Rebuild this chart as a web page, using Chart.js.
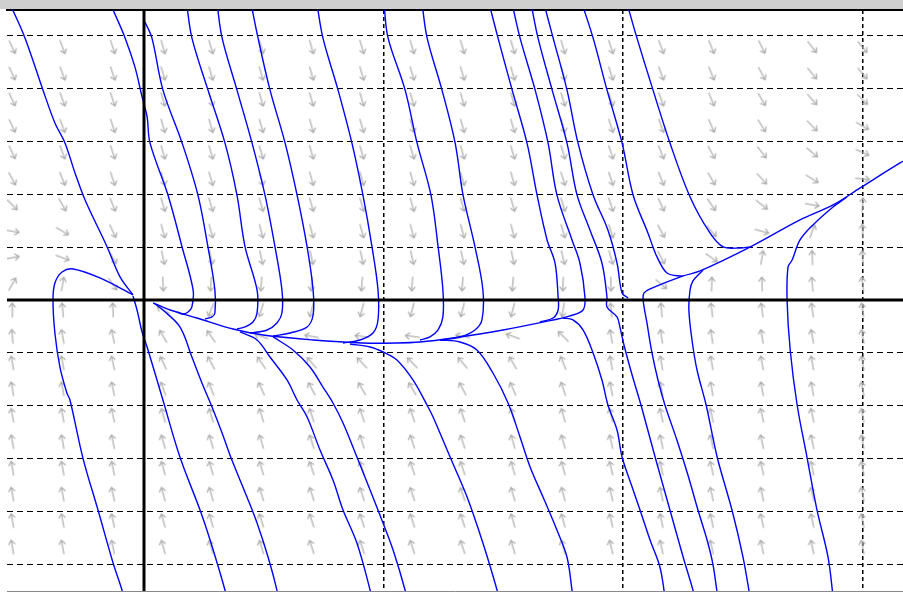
<!DOCTYPE html>
<html><head><meta charset="utf-8">
<script src="https://cdn.jsdelivr.net/npm/chart.js@4.4.0/dist/chart.umd.min.js"></script>
<style>
html,body{margin:0;padding:0;background:#fff;}
#wrap{width:903px;height:592px;position:relative;background:linear-gradient(#cfcfcf 0,#cfcfcf 9px,#fff 9px);}
canvas{display:block;}
</style></head><body>
<div id="wrap"><canvas id="c" width="903" height="592"></canvas></div>
<script>
// axis window and grid values
const X_MIN = -0.572, X_MAX = 3.169, Y_MIN = -5.50, Y_MAX = 5.48;
const xGridValues = [1, 2, 3];
const yGridValues = [-5, -4, -3, -2, -1, 1, 2, 3, 4, 5];

// slope-field sample positions
const arrowX = [-0.55,-0.34,-0.13,0.08,0.28,0.49,0.70,0.91,1.12,1.33,1.54,1.75,1.95,2.16,2.37,2.58,2.79,3.00];
const arrowY = [4.78,4.28,3.79,3.29,2.79,2.29,1.80,1.30,0.80,0.30,-0.19,-0.69,-1.19,-1.68,-2.18,-2.68,-3.18,-3.67,-4.17,-4.67];
// arrow directions (degrees, 0 = right, 90 = up), one row per arrowY
const arrowAngle = [
 [-65,-70,-72,-74,-74,-74,-74,-74,-74,-74,-74,-74,-72,-70,-68,-64,-52,-50],
 [-65,-70,-72,-74,-74,-74,-74,-74,-74,-74,-74,-74,-72,-70,-68,-62,-50,-50],
 [-65,-70,-72,-74,-74,-74,-74,-74,-74,-74,-74,-74,-72,-70,-67,-60,-48,-45],
 [-65,-70,-72,-74,-74,-74,-74,-74,-74,-74,-74,-74,-72,-70,-66,-58,-45,-30],
 [-65,-70,-72,-74,-74,-74,-74,-74,-74,-74,-74,-74,-72,-68,-62,-52,-40,-25],
 [-62,-68,-72,-74,-74,-74,-74,-74,-74,-74,-74,-73,-72,-68,-60,-48,-32,-5],
 [-45,-60,-68,-74,-74,-74,-74,-74,-74,-74,-74,-73,-72,-66,-56,-38,-10,85],
 [-10,-30,-65,-75,-75,-75,-75,-75,-75,-75,-75,-74,-72,-62,-50,-15,70,92],
 [10,-20,-60,-78,-78,-78,-78,-78,-78,-78,-78,-76,-74,-62,-35,80,92,95],
 [60,80,-55,-88,-95,-95,-95,-95,-95,-95,-95,-92,-88,-40,88,92,95,97],
 [90,95,92,150,-112,-108,-105,-105,-105,-105,-105,-100,95,95,97,98,98,98],
 [95,100,102,120,125,160,170,172,172,170,160,135,100,98,98,100,100,100],
 [100,100,102,115,118,124,130,134,134,130,120,112,100,99,99,100,100,100],
 [100,100,102,110,112,115,118,120,120,118,113,108,101,100,100,100,100,100],
 [100,100,102,105,106,107,108,108,108,108,106,105,103,102,102,102,102,100],
 [100,100,102,105,106,107,108,108,108,108,106,105,103,102,102,102,102,100],
 [100,100,102,105,106,107,108,108,108,108,106,105,103,102,102,102,102,100],
 [100,100,102,105,106,107,108,108,108,108,106,105,103,102,102,102,102,100],
 [100,100,102,105,106,107,108,108,108,108,106,105,103,102,102,102,102,100],
 [100,100,102,105,106,107,108,108,108,108,106,105,103,102,102,102,102,100]
];

// solution curves [x, y]
const curveA = [[-0.56,5.6],[-0.497,4.953],[-0.422,3.970],[-0.372,3.346],[-0.330,2.968],[-0.288,2.401],[-0.246,1.890],[-0.154,1.002],[-0.100,0.435],[-0.046,0.095]];
const curveLoop = [[-0.046,0.095],[-0.184,0.416],[-0.296,0.586],[-0.342,0.529],[-0.372,0.321],[-0.380,0],[-0.372,-0.624],[-0.351,-1.267],[-0.322,-1.758],[-0.309,-1.890],[-0.255,-2.988],[-0.192,-3.970],[-0.129,-4.972],[-0.092,-5.482],[-0.088,-5.6]];
const curveB = [[-0.140,5.6],[-0.129,5.482],[-0.079,4.953],[-0.038,4.405],[-0.008,3.837],[0.013,3.459],[0.025,2.968],[0.100,1.985],[0.159,1.002],[0.205,0.189],[0.200,-0.132],[0.184,-0.227],[0.163,-0.265],[0.138,-0.227]];
const curve1 = [[0.004,5.255],[0.033,4.953],[0.079,3.970],[0.159,2.968],[0.225,1.985],[0.267,1.002],[0.296,0.189],[0.296,-0.246],[0.284,-0.321],[0.255,-0.359]];
const curve2 = [[0.178,5.6],[0.200,4.953],[0.267,3.970],[0.338,2.968],[0.388,1.985],[0.422,1.002],[0.472,0.189],[0.472,-0.246],[0.455,-0.416],[0.422,-0.510],[0.388,-0.548]];
const curve3 = [[0.305,5.6],[0.326,4.953],[0.388,3.970],[0.451,2.968],[0.505,1.985],[0.547,1.002],[0.576,0.189],[0.576,-0.246],[0.555,-0.435],[0.514,-0.567],[0.443,-0.624]];
const curve4 = [[0.447,5.6],[0.476,4.953],[0.526,3.970],[0.589,2.968],[0.639,1.985],[0.681,1.002],[0.706,0.189],[0.706,-0.284],[0.681,-0.510],[0.610,-0.624],[0.539,-0.681]];
const curve5 = [[0.722,5.6],[0.747,4.953],[0.810,3.970],[0.868,2.968],[0.914,1.985],[0.952,1.002],[0.977,0.189],[0.977,-0.378],[0.956,-0.624],[0.902,-0.756],[0.831,-0.813]];
const curve6 = [[1.002,5.6],[1.019,4.953],[1.090,3.970],[1.140,2.968],[1.198,1.985],[1.228,1.002],[1.248,0.189],[1.248,-0.321],[1.228,-0.567],[1.194,-0.699],[1.152,-0.756]];
const curve7 = [[1.161,5.6],[1.182,4.953],[1.244,3.970],[1.299,2.968],[1.332,1.985],[1.382,1.002],[1.415,0.189],[1.411,-0.378],[1.382,-0.567],[1.319,-0.699],[1.236,-0.756]];
const curve8 = [[1.441,5.6],[1.478,4.953],[1.537,3.970],[1.599,2.968],[1.641,1.985],[1.683,1.134],[1.716,0.699],[1.729,0.057],[1.729,-0.189],[1.708,-0.340],[1.653,-0.416]];
const curve9 = [[1.537,5.6],[1.570,4.953],[1.633,3.970],[1.687,2.968],[1.724,1.985],[1.787,1.134],[1.820,0.699],[1.841,0.057],[1.833,-0.189],[1.779,-0.302],[1.708,-0.378],[1.499,-0.567],[1.290,-0.718],[1.152,-0.794],[1.056,-0.813],[0.914,-0.813],[0.706,-0.756],[0.497,-0.662],[0.372,-0.548],[0.221,-0.340],[0.109,-0.189],[0.038,-0.057]];
const curve10 = [[1.616,5.6],[1.645,4.953],[1.704,3.970],[1.766,2.968],[1.808,1.985],[1.862,1.323],[1.912,0.699],[1.933,0.057],[1.933,-0.132],[1.975,-0.321],[1.987,-0.510],[2.004,-0.851],[2.038,-1.418],[2.075,-1.985],[2.134,-2.968],[2.196,-3.970],[2.251,-4.858],[2.292,-5.482],[2.296,-5.6]];
const curve11 = [[1.670,5.6],[1.708,4.953],[1.766,3.970],[1.812,2.968],[1.875,1.985],[1.937,1.323],[1.975,0.699],[1.996,0.132],[2.021,0.038]];
const curve12 = [[1.829,5.6],[1.875,4.953],[1.933,3.970],[1.996,2.968],[2.042,1.985],[2.104,1.267],[2.125,1.002],[2.142,0.813],[2.184,0.510],[2.251,0.445]];
const curve13 = [[2.017,5.6],[2.058,4.953],[2.125,3.970],[2.196,2.968],[2.280,1.947],[2.363,1.267],[2.418,1.002],[2.489,0.983],[2.530,1.002]];
const curveK = [[3.219,2.741],[3.157,2.590],[2.990,2.117],[2.877,1.796],[2.739,1.512],[2.530,0.998],[2.322,0.548],[2.251,0.454],[2.113,0.208],[2.088,0.132],[2.084,0],[2.100,-0.435],[2.121,-1.002],[2.146,-1.512],[2.175,-1.985],[2.225,-2.647],[2.271,-3.308],[2.313,-3.970],[2.351,-4.537],[2.376,-5.009],[2.395,-5.6]];
const curveL = [[2.530,-5.6],[2.501,-4.858],[2.455,-3.970],[2.393,-2.968],[2.347,-1.985],[2.309,-1.323],[2.288,-0.756],[2.275,-0.189],[2.280,0.189],[2.292,0.359],[2.322,0.510],[2.334,0.567]];
const curveM = [[2.877,-5.6],[2.856,-4.858],[2.810,-3.970],[2.768,-2.968],[2.727,-1.985],[2.698,-0.945],[2.685,0],[2.689,0.624],[2.706,0.756],[2.739,1.134],[2.793,1.418],[2.877,1.758],[2.935,1.947]];
const curveJ = [[1.749,-0.340],[1.791,-0.378],[1.833,-0.567],[1.875,-1.002],[1.912,-1.512],[1.937,-1.985],[1.975,-2.457],[1.996,-2.968],[2.038,-3.535],[2.071,-3.970],[2.113,-4.537],[2.154,-5.047],[2.175,-5.6]];
const curveG = [[1.236,-0.756],[1.319,-0.794],[1.390,-0.945],[1.457,-1.380],[1.520,-1.947],[1.570,-2.590],[1.612,-3.157],[1.666,-3.724],[1.724,-4.348],[1.766,-4.858],[1.787,-5.482],[1.790,-5.6]];
const curveH = [[0.860,-0.832],[0.944,-0.888],[0.998,-0.983],[1.056,-1.134],[1.123,-1.512],[1.186,-2.023],[1.207,-2.212],[1.278,-2.968],[1.349,-3.724],[1.415,-4.594],[1.474,-5.482],[1.478,-5.6]];
const curveF = [[0.539,-0.699],[0.622,-0.945],[0.693,-1.267],[0.747,-1.645],[0.789,-1.947],[0.831,-2.325],[0.889,-2.968],[0.944,-3.592],[0.998,-4.216],[1.040,-4.726],[1.090,-5.482],[1.092,-5.6]];
const curveE = [[0.401,-0.605],[0.472,-0.756],[0.526,-1.078],[0.597,-1.512],[0.639,-1.890],[0.681,-2.212],[0.735,-2.836],[0.789,-3.403],[0.831,-3.970],[0.889,-4.594],[0.944,-5.482],[0.946,-5.6]];
const curveD = [[0.046,-0.076],[0.079,-0.189],[0.150,-0.510],[0.200,-1.078],[0.242,-1.569],[0.284,-2.023],[0.326,-2.514],[0.367,-3.025],[0.430,-3.724],[0.472,-4.216],[0.518,-4.858],[0.555,-5.482],[0.557,-5.6]];
const curveC = [[-0.046,0.076],[-0.029,-0.189],[-0.008,-0.605],[0.013,-0.888],[0.079,-1.890],[0.150,-2.968],[0.234,-3.970],[0.276,-4.537],[0.338,-5.482],[0.340,-5.6]];

const curves = [curveA,curveLoop,curveB,curve1,curve2,curve3,curve4,curve5,curve6,curve7,curve8,curve9,curve10,curve11,curve12,curve13,curveK,curveL,curveM,curveJ,curveG,curveH,curveF,curveE,curveD,curveC];

// axes through the origin
const xAxisLine = [[X_MIN - 0.1, 0], [X_MAX + 0.1, 0]];
const yAxisLine = [[0, Y_MIN - 0.2], [0, Y_MAX + 0.2]];

function makeArrow() {
  const c = document.createElement('canvas');
  c.width = 20; c.height = 20;
  const g = c.getContext('2d');
  g.strokeStyle = '#b0b0b0'; g.lineWidth = 1.25; g.lineCap = 'round';
  g.beginPath();
  g.moveTo(3, 10); g.lineTo(17, 10);
  g.moveTo(17, 10); g.lineTo(13, 7);
  g.moveTo(17, 10); g.lineTo(13, 13);
  g.stroke();
  return c;
}
const arrowImg = makeArrow();

const arrowData = [];
arrowY.forEach((y, r) => arrowX.forEach((x, c) => arrowData.push({x, y, a: arrowAngle[r][c]})));

const toPts = arr => arr.map(p => ({x: p[0], y: p[1]}));

const datasets = [];
datasets.push({label:'xaxis', data: toPts(xAxisLine), showLine:true, borderColor:'#000', borderWidth:3, pointRadius:0, order:0});
datasets.push({label:'yaxis', data: toPts(yAxisLine), showLine:true, borderColor:'#000', borderWidth:3, pointRadius:0, order:0});
curves.forEach((cv, i) => datasets.push({label:'sol'+i, data: toPts(cv), showLine:true, borderColor:'#0000ff', borderWidth:1.4, pointRadius:0, tension:0.35, order:1}));
datasets.push({label:'field', data: arrowData, showLine:false, pointStyle: arrowImg, pointRadius: 8,
  rotation: ctx => -(ctx.raw ? ctx.raw.a : 0), order:2});

new Chart(document.getElementById('c'), {
  type: 'scatter',
  data: { datasets },
  options: {
    responsive: false, animation: false, devicePixelRatio: 1,
    layout: { autoPadding: false, padding: { left: 7, top: 10, right: 0, bottom: 1 } },
    plugins: { legend: { display: false }, tooltip: { enabled: false } },
    events: [],
    scales: {
      x: {
        type: 'linear', min: X_MIN, max: X_MAX, position: 'bottom',
        afterBuildTicks: ax => { ax.ticks = xGridValues.map(v => ({value: v})); },
        ticks: { display: false },
        grid: { drawTicks: false, color: '#000', lineWidth: 1.5 },
        border: { display: true, color: '#8a8a8a', width: 1, dash: [4, 3] }
      },
      xTop: {
        type: 'linear', min: X_MIN, max: X_MAX, position: 'top',
        ticks: { display: false },
        grid: { display: false, drawTicks: false },
        border: { display: true, color: '#000', width: 2 }
      },
      y: {
        type: 'linear', min: Y_MIN, max: Y_MAX,
        afterBuildTicks: ax => { ax.ticks = yGridValues.map(v => ({value: v})); },
        ticks: { display: false },
        grid: { drawTicks: false, color: '#000', lineWidth: 1 },
        border: { display: false, dash: [6, 4] }
      }
    }
  }
});
</script>
</body></html>
